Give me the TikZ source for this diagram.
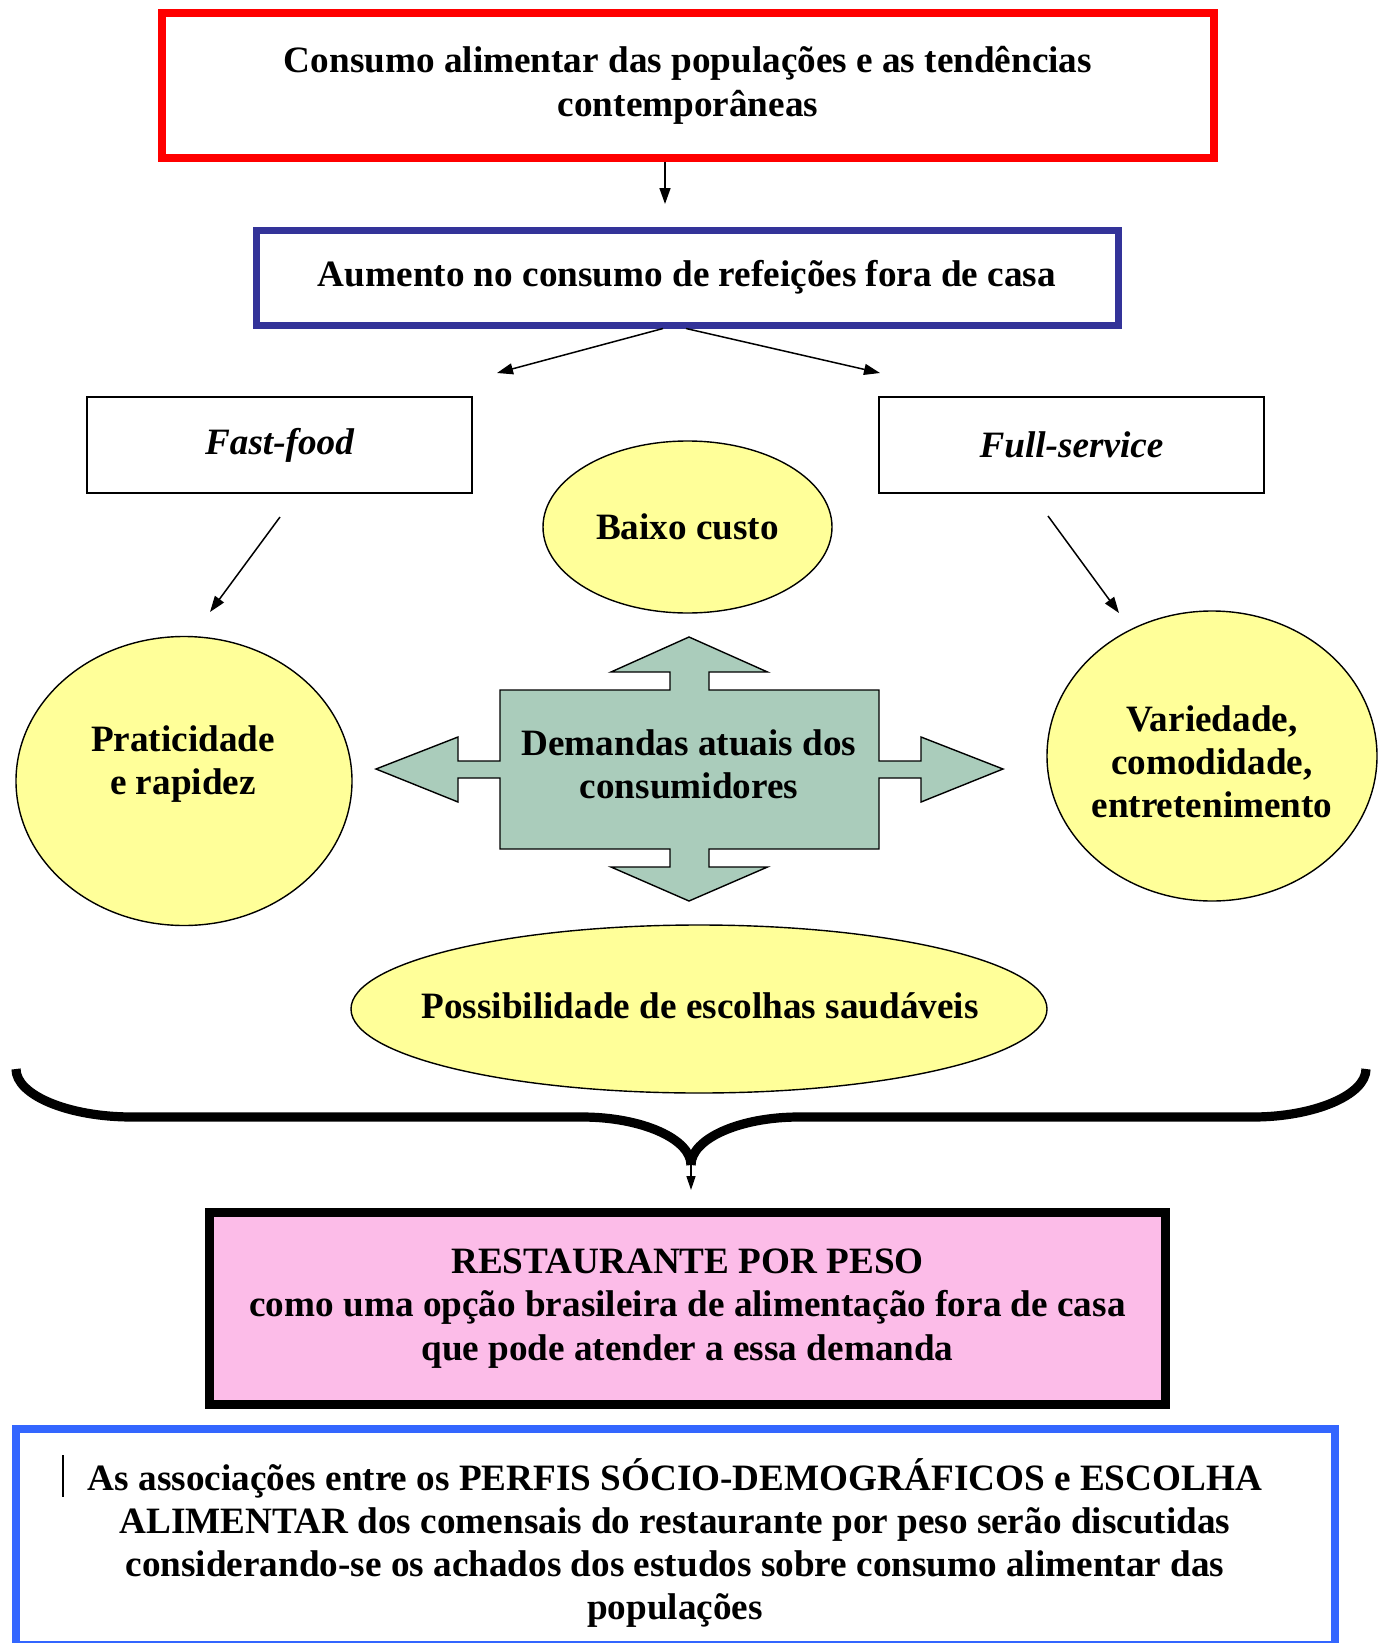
\documentclass[tikz,border=0pt]{standalone}
\usepackage{fontspec}
\setmainfont{Liberation Serif}
\usetikzlibrary{shapes.geometric,arrows.meta}
\definecolor{boxred}{RGB}{255,0,0}
\definecolor{boxnavy}{RGB}{51,51,153}
\definecolor{boxblue}{RGB}{51,102,255}
\definecolor{ellyellow}{RGB}{255,255,153}
\definecolor{arrgreen}{RGB}{170,204,187}
\definecolor{boxpink}{RGB}{252,188,232}
\tikzset{
  txt/.style={font=\fontsize{18.6}{21.6}\selectfont\bfseries, align=center, inner sep=0pt},
  itxt/.style={font=\fontsize{18.6}{21.6}\selectfont\bfseries\itshape, align=center, inner sep=0pt},
  frame/.style={draw, rectangle, inner sep=0pt},
  oval/.style={draw=black, line width=0.7pt, fill=ellyellow, ellipse, inner sep=0pt},
  arr/.style={line width=0.75pt, -{Triangle[length=8pt,width=5.5pt]}},
}
\begin{document}
\begin{tikzpicture}[x=0.5pt,y=-0.5pt]
\useasboundingbox (0,0) rectangle (1377,1643);

% top boxes
\node[frame, draw=boxred, line width=4pt, minimum width=526pt, minimum height=72.25pt, txt] (top) at (688,85.25)
  {Consumo alimentar das populações e as tendências\\contemporâneas};
\node[frame, draw=boxnavy, line width=3.5pt, minimum width=431pt, minimum height=47.5pt, txt] (inc) at (687,277.5)
  {Aumento no consumo de refeições fora de casa};

\coordinate (a1) at (665,204);
\draw[arr] (top.south -| a1) -- (a1);

% fast food / full service
\node[frame, line width=0.6pt, minimum width=192.5pt, minimum height=48pt, itxt] (ff) at (279.5,445) {Fast-food};
\node[frame, line width=0.6pt, minimum width=192.5pt, minimum height=48pt, itxt] (fs) at (1071.5,445) {Full-service};

\coordinate (s1) at (663,326);
\coordinate (s2) at (686,326);
\coordinate (e1) at (497,373);
\coordinate (e2) at (880,373);
\draw[arr] (inc.south -| s1) -- (e1);
\draw[arr] (inc.south -| s2) -- (e2);

\coordinate (f1) at (280,517);
\coordinate (f2) at (210,612);
\coordinate (g1) at (1048,516);
\coordinate (g2) at (1119,613);
\draw[arr] (f1) -- (f2);
\draw[arr] (g1) -- (g2);

% ellipses
\node[oval, minimum width=144.5pt, minimum height=86pt] (baixo) at (687.5,527) {};
\node[txt] (baixot) at (baixo.center) {Baixo custo};
\node[oval, minimum width=168pt, minimum height=144.5pt] (prat) at (184,781) {};
\node[txt] (pratt) at (183,764) {Praticidade\\e rapidez};
\node[oval, minimum width=165pt, minimum height=145pt] (var) at (1212,756) {};
\node[txt] (vart) at (1212,762) {Variedade,\\comodidade,\\entretenimento};
\node[oval, minimum width=348pt, minimum height=84pt] (poss) at (699,1009) {};
\node[txt] (posst) at (700,1006) {Possibilidade de escolhas saudáveis};

% central four-way arrow
\draw[line width=0.7pt, fill=arrgreen]
  (689,637) -- (767.5,672) -- (709,672) -- (709,690) -- (879,690) -- (879,761)
  -- (921,761) -- (921,737) -- (1003,769) -- (921,802) -- (921,778) -- (879,778)
  -- (879,849) -- (709,849) -- (709,867) -- (767.5,867) -- (689,901) -- (611,867)
  -- (670,867) -- (670,849) -- (500,849) -- (500,778) -- (458,778) -- (458,802)
  -- (376,769) -- (458,737) -- (458,761) -- (500,761) -- (500,690) -- (670,690)
  -- (670,672) -- (611,672) -- cycle;
\node[txt] (dem) at (689,764) {Demandas atuais dos\\consumidores};

% brace
\coordinate (bl) at (16,1069);
\coordinate (br) at (1366,1069);
\coordinate (bm) at (691,1165);
\draw[line width=4.6pt]
  (bl) .. controls (16,1095) and (68,1117) .. (132,1117) -- (582,1117)
  .. controls (642,1117) and (691,1139) .. (bm);
\draw[line width=4.6pt]
  (br) .. controls (1366,1095) and (1314,1117) .. (1253,1117) -- (799,1117)
  .. controls (739,1117) and (691,1139) .. (bm);
\coordinate (bt) at (691,1190);
\draw[line width=0.75pt, -{Triangle[length=7pt,width=4.5pt]}] (bm) -- (bt);

% pink box
\node[frame, draw=black, fill=boxpink, line width=4.25pt, minimum width=478pt, minimum height=96pt, txt] (rest) at (687.5,1308.5)
  {RESTAURANTE POR PESO\\como uma opção brasileira de alimentação fora de casa\\que pode atender a essa demanda};

% bottom blue box
\node[frame, draw=boxblue, line width=4pt, minimum width=659.5pt, minimum height=108pt] (bot) at (675.5,1537) {};
\node[txt] (bott) at (675,1543)
  {As associações entre os PERFIS SÓCIO-DEMOGRÁFICOS e ESCOLHA\\ALIMENTAR dos comensais do restaurante por peso serão discutidas\\considerando-se os achados dos estudos sobre consumo alimentar das\\populações};
\coordinate (c1) at (63,1455);
\coordinate (c2) at (63,1497);
\draw[line width=0.75pt] (c1) -- (c2);
\end{tikzpicture}
\end{document}
